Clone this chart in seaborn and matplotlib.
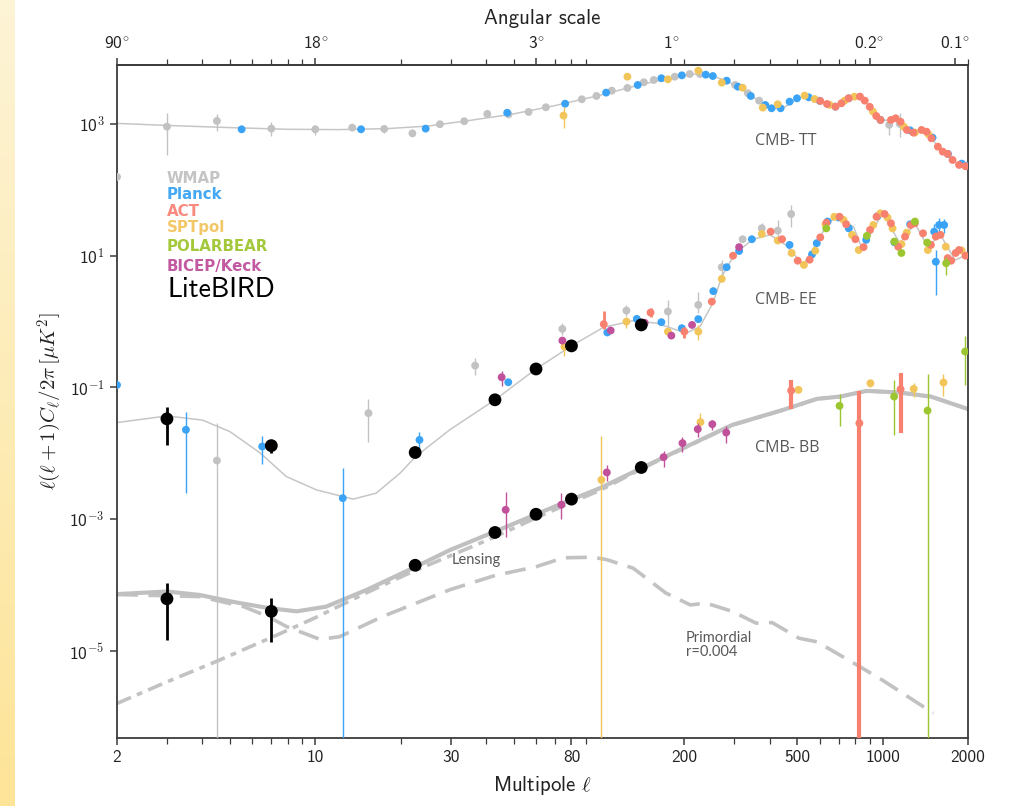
import numpy as np
import pandas as pd
import matplotlib
matplotlib.use("Agg")
import matplotlib.pyplot as plt
from matplotlib.ticker import NullLocator, LogLocator, NullFormatter
import seaborn as sns

# ---------------- theory curves ----------------
tt_theory_l = [2, 3, 5, 8, 12, 18, 25, 35, 50, 70, 100, 140, 180, 220, 250, 280, 310, 345, 385, 420, 450, 500, 535,
               580, 640, 680, 720, 770, 815, 850, 900, 950, 990, 1060, 1110, 1160, 1220, 1290, 1370, 1430, 1490,
               1570, 1640, 1700, 1770, 1860, 2000]
tt_theory_d = [1020, 950, 880, 830, 820, 850, 930, 1130, 1420, 1900, 2700, 3950, 5000, 5750, 5400, 4550, 3650, 2650,
               1950, 1720, 1780, 2450, 2650, 2380, 2000, 1830, 2080, 2500, 2620, 2480, 1820, 1320, 1150, 1130, 1210,
               1070, 810, 740, 810, 760, 600, 450, 375, 345, 280, 240, 215]

ee_theory_l = [2, 3, 4, 5, 6.4, 7.9, 10.1, 13.6, 16.4, 19.9, 22.6, 29.8, 43, 60, 80, 104, 132, 160, 203, 227, 252,
               271, 302, 350, 401, 455, 525, 585, 640, 690, 790, 845, 1000, 1150, 1300, 1440, 1600, 1800, 2000]
ee_theory_d = [0.0293, 0.037, 0.032, 0.0214, 0.0101, 0.00445, 0.00279, 0.00202, 0.00249, 0.005, 0.00896, 0.0228,
               0.065, 0.191, 0.428, 0.822, 1.03, 0.946, 0.667, 0.84, 1.9, 4.8, 10.9, 17.8, 20.7, 14.6, 7.25, 15.5,
               31, 38.4, 27.6, 12.9, 44.2, 15.5, 31.1, 13.7, 20.7, 8.6, 10.5]

bb_total_l = [2, 3, 3.9, 5.1, 6.8, 8.6, 10.9, 15.2, 22.6, 29.8, 43, 79.5, 101, 141, 198, 295, 446, 586, 708, 879,
              1150, 1480, 2000]
bb_total_d = [7.3e-5, 8e-5, 7.1e-5, 5.6e-5, 4.5e-5, 4e-5, 4.7e-5, 8.5e-5, 1.9e-4, 3.4e-4, 6.5e-4, 1.97e-3, 2.97e-3,
              5.96e-3, 0.012, 0.027, 0.0457, 0.0671, 0.0728, 0.0888, 0.0837, 0.0728, 0.047]

bb_lens_l = [2, 3, 4.5, 7, 10, 15, 22, 30, 43, 60, 80, 101, 141, 198, 295, 446, 586, 708, 879, 1150, 1480, 2000]
bb_lens_d = [1.6e-6, 3.4e-6, 7e-6, 1.6e-5, 3.2e-5, 7.5e-5, 1.6e-4, 2.8e-4, 5.4e-4, 1.05e-3, 1.8e-3, 2.75e-3,
             5.8e-3, 0.0118, 0.0268, 0.0455, 0.067, 0.0727, 0.0887, 0.0836, 0.0727, 0.047]

bb_prim_l = [2, 3.9, 5.6, 6.8, 7.9, 10.4, 12.2, 17.3, 29.8, 43, 60, 75, 95, 106, 132, 172, 210, 238, 295, 358, 408,
             508, 587, 706, 830, 1000, 1200, 1510]
bb_prim_d = [7.2e-5, 6.7e-5, 4.7e-5, 3.35e-5, 2.36e-5, 1.5e-5, 1.65e-5, 3.35e-5, 8.5e-5, 1.4e-4, 1.9e-4, 2.6e-4,
             2.65e-4, 2.45e-4, 1.81e-4, 7.6e-5, 5.0e-5, 5.35e-5, 4.0e-5, 2.65e-5, 2.7e-5, 1.56e-5, 1.38e-5, 8.7e-6,
             5.8e-6, 3.6e-6, 2.16e-6, 1.14e-6]

# ---------------- TT data ----------------
wmap_tt_l = [2, 3, 4.5, 7, 10, 13.5, 17.5, 22, 27.5, 33.5, 40.4, 48, 56.5, 65, 87, 98, 111, 126, 144, 156, 185, 209,
             227, 302, 335, 367, 1055, 1150]
wmap_tt_d = [157, 910, 1110, 850, 830, 880, 840, 720, 990, 1100, 1420, 1400, 1520, 1790, 2370, 2660, 3200, 3520, 4290,
             4650, 5220, 5730, 5730, 3900, 2930, 2260, 970, 1000]
wmap_tt_lo = [157, 340, 791, 657, 680, 800, 720, 660, 990, 1100, 1420, 1400, 1520, 1790, 2370, 2660, 3200, 3520,
              4290, 4650, 5220, 5730, 5730, 3900, 2930, 2260, 690, 640]
wmap_tt_hi = [157, 1480, 1420, 1070, 966, 960, 960, 780, 990, 1100, 1420, 1400, 1520, 1790, 2370, 2660, 3200, 3520,
              4290, 4650, 5220, 5730, 5730, 3900, 2930, 2260, 1080, 1480]

planck_tt_l = [5.5, 14.5, 24.5, 47.5, 76, 106, 137, 166, 196, 238, 252, 282, 309, 343, 386, 406, 437, 470, 499, 549,
               600, 682, 760, 983, 1250, 1500, 1700, 1900, 1980]
planck_tt_d = [830, 830, 850, 1480, 2030, 2990, 3900, 4940, 5470, 5600, 5340, 4540, 3680, 2660, 1940, 1730, 1730,
               2180, 2450, 2540, 2250, 1830, 2450, 1150, 800, 620, 350, 250, 232]

spt_tt_l = [75, 126, 175, 224, 271, 321, 378, 427, 531, 576, 651, 735, 795, 925, 1188, 1300, 1450]
spt_tt_d = [1340, 5220, 4760, 6440, 4240, 3550, 1770, 1990, 2690, 2390, 1950, 2260, 2600, 1540, 910, 740, 700]
spt_tt_lo = [861, 5220, 4760, 6440, 4240, 3550, 1770, 1990, 2690, 2390, 1950, 2260, 2600, 1540, 910, 740, 700]
spt_tt_hi = [1830, 5220, 4760, 6440, 4240, 3550, 1770, 1990, 2690, 2390, 1950, 2260, 2600, 1540, 910, 740, 700]

act_tt_l = [603, 637, 682, 716, 759, 832, 865, 901, 950, 983, 1070, 1112, 1157, 1218, 1283, 1372, 1428, 1486, 1566,
            1630, 1696, 1764, 1860, 1960]
act_tt_d = [2230, 2010, 1830, 2060, 2450, 2600, 2260, 1820, 1320, 1150, 1150, 1220, 1080, 811, 738, 811, 764, 606,
            452, 380, 351, 284, 239, 228]

# ---------------- EE data ----------------
wmap_ee_l = [4.5, 15.4, 36.6, 74.3, 125, 175, 224, 271, 321, 375, 427, 476]
wmap_ee_d = [0.00778, 0.0407, 0.215, 0.774, 1.47, 1.42, 1.79, 6.7, 17.8, 26.1, 24, 43]
wmap_ee_lo = [1e-8, 0.0151, 0.155, 0.63, 1.22, 0.84, 1.34, 5.1, 17.8, 21.9, 19.5, 27.6]
wmap_ee_hi = [0.0293, 0.0664, 0.278, 0.946, 1.79, 2.14, 2.85, 8.6, 17.8, 31, 34.9, 59]

planck_ee_l = [2, 3.5, 6.5, 12.5, 23.3, 47.9, 107, 136, 166, 196, 224, 253, 282, 312, 346, 470, 564, 586, 640, 700,
               760, 875, 960, 1100, 1250, 1520, 1540, 1582, 1648]
planck_ee_d = [0.109, 0.0228, 0.0127, 0.00209, 0.016, 0.120, 0.684, 1.1, 0.98, 0.794, 1.09, 2.9, 6.7, 11.8, 17.8,
               14.6, 10.5, 15.5, 33, 38, 26, 17.4, 40, 16, 30, 23.2, 8.1, 29.3, 29.3]
planck_ee_lo = [0.109, 0.00254, 0.0069, 1e-8, 0.0113, 0.120, 0.684, 1.1, 0.98, 0.794, 1.09, 2.9, 6.7, 11.8, 17.8,
                14.6, 10.5, 15.5, 33, 38, 26, 17.4, 40, 16, 30, 18, 2.5, 22, 22]
planck_ee_hi = [0.109, 0.0422, 0.0184, 0.006, 0.0214, 0.120, 0.684, 1.1, 0.98, 0.794, 1.09, 2.9, 6.7, 11.8, 17.8,
                14.6, 10.5, 15.5, 33, 38, 26, 17.4, 40, 16, 30, 30, 12, 37, 36]

act_ee_l = [104, 152, 200, 250, 297, 403, 442, 502, 553, 603, 634, 705, 744, 802, 857, 903, 952, 1016, 1070, 1135,
            1200, 1257, 1298, 1388, 1480, 1540, 1600, 1696, 1745, 1810, 1860, 1960]
act_ee_d = [0.914, 1.37, 0.705, 2.01, 10, 23.2, 17.8, 8.4, 8.7, 19, 31.6, 39, 30, 17.8, 13.5, 24.6, 39, 43, 31, 13.7,
            19.5, 29.3, 31, 21.9, 14.6, 19.5, 20.7, 9.2, 8.4, 11, 12.2, 10]
act_ee_lo = [0.767, 1.17, 0.56] + act_ee_d[3:]
act_ee_hi = [1.47, 1.6, 0.84] + act_ee_d[3:]

spt_ee_l = [75.6, 125, 175, 224, 271, 375, 427, 478, 528, 579, 629, 676, 728, 780, 824, 927, 982, 1040, 1084, 1165,
            1216, 1444, 1670, 1900]
spt_ee_d = [0.417, 1.0, 0.705, 0.705, 4.45, 21.4, 17, 11, 7.25, 11.9, 30, 39, 35, 20.7, 12.2, 29.3, 44, 38, 26, 15,
            22.4, 12.2, 13.7, 12]
spt_ee_lo = [0.3, 0.79, 0.705, 0.527] + spt_ee_d[4:]
spt_ee_hi = [0.45, 1.19, 0.705, 0.89] + spt_ee_d[4:]

pb_ee_l = [633, 880, 1100, 1165, 1300, 1436, 1675]
pb_ee_d = [26, 20, 16.4, 11, 33, 15.8, 7.7]
pb_ee_lo = [26, 20, 16.4, 11, 33, 15.8, 5.1]
pb_ee_hi = [26, 20, 16.4, 11, 33, 15.8, 9.5]

bk_ee_l = [45.4, 74.3, 110, 145, 180, 213, 312]
bk_ee_d = [0.143, 0.515, 0.733, 0.96, 0.613, 0.89, 13.5]
bk_ee_lo = [0.106, 0.47, 0.68, 0.96, 0.56, 0.83, 13.5]
bk_ee_hi = [0.18, 0.56, 0.79, 0.96, 0.67, 0.95, 13.5]

lb_ee_l = [3, 7, 22.5, 43, 60, 80, 141]
lb_ee_d = [0.0334, 0.0131, 0.0103, 0.065, 0.191, 0.428, 0.89]
lb_ee_lo = [0.0135, 0.010, 0.0103, 0.065, 0.191, 0.428, 0.89]
lb_ee_hi = [0.0513, 0.016, 0.0103, 0.065, 0.191, 0.428, 0.89]

# ---------------- BB data ----------------
lb_bb_l = [3, 7, 22.5, 43, 60, 80, 141]
lb_bb_d = [6.2e-5, 4e-5, 2.0e-4, 6.3e-4, 1.19e-3, 2.02e-3, 6.1e-3]
lb_bb_lo = [1.48e-5, 1.39e-5, 2.0e-4, 6.3e-4, 1.19e-3, 2.02e-3, 6.1e-3]
lb_bb_hi = [1.07e-4, 6.35e-5, 2.0e-4, 6.3e-4, 1.19e-3, 2.02e-3, 6.1e-3]

bk_bb_l = [46.9, 73.7, 106.6, 141, 169, 197, 223, 251, 281]
bk_bb_d = [0.00139, 0.00166, 0.00513, 0.0061, 0.00875, 0.0143, 0.0233, 0.0277, 0.0207]
bk_bb_lo = [0.000546, 0.001, 0.00387, 0.0055, 0.0063, 0.0106, 0.018, 0.0228, 0.0146]
bk_bb_hi = [0.00263, 0.00249, 0.0067, 0.0075, 0.011, 0.018, 0.0287, 0.0323, 0.0261]

spt_bb_l = [102, 228, 505, 906, 1287, 1639]
spt_bb_d = [0.00396, 0.0298, 0.092, 0.116, 0.0953, 0.119]
spt_bb_lo = [1e-8, 0.0228, 0.085, 0.10, 0.0713, 0.0746]
spt_bb_hi = [0.0184, 0.0407, 0.1, 0.13, 0.119, 0.161]

act_bb_l = [476, 828, 1157]
act_bb_d = [0.0897, 0.0287, 0.0942]
act_bb_lo = [0.0468, 1e-8, 0.0207]
act_bb_hi = [0.13, 0.087, 0.168]

pb_bb_l = [705, 1098, 1440, 1954]
pb_bb_d = [0.0526, 0.0728, 0.0446, 0.351]
pb_bb_lo = [0.0261, 0.0191, 1e-8, 0.11]
pb_bb_hi = [0.08, 0.13, 0.161, 0.607]

# ---------------- tick labels ----------------
bottom_ticks = [2, 10, 30, 80, 200, 500, 1000, 2000]
bottom_labels = ["2", "10", "30", "80", "200", "500", "1000", "2000"]
top_ticks = [2, 10, 60, 180, 900, 1800]
top_labels = [r"$\mathdefault{90}^{\circ}$", r"$\mathdefault{18}^{\circ}$", r"$\mathdefault{3}^{\circ}$",
              r"$\mathdefault{1}^{\circ}$", r"$\mathdefault{0.2}^{\circ}$", r"$\mathdefault{0.1}^{\circ}$"]
y_ticks = [1e3, 1e1, 1e-1, 1e-3, 1e-5]
y_labels = [r"$\mathdefault{10}^{3}$", r"$\mathdefault{10}^{1}$", r"$\mathdefault{10}^{-1}$",
            r"$\mathdefault{10}^{-3}$", r"$\mathdefault{10}^{-5}$"]

experiments = ["WMAP", "Planck", "ACT", "SPTpol", "POLARBEAR", "BICEP/Keck", "LiteBIRD"]
colors = {"WMAP": "#c2c2c2", "Planck": "#3ba3f5", "ACT": "#f8806f", "SPTpol": "#f2c55a",
          "POLARBEAR": "#9cc62f", "BICEP/Keck": "#c2519c", "LiteBIRD": "#000000"}
label_colors = {"WMAP": "#c4c4c4", "Planck": "#45a8f5", "ACT": "#f88a7e", "SPTpol": "#f3c765",
                "POLARBEAR": "#a3c83c", "BICEP/Keck": "#c25aa2"}

# ---------------- assemble ----------------
def block(exp, spec, l, d, lo=None, hi=None):
    lo = d if lo is None else lo
    hi = d if hi is None else hi
    return pd.DataFrame({"ell": l, "D": d, "lo": lo, "hi": hi, "exp": exp, "spec": spec})

points = pd.concat([
    block("WMAP", "TT", wmap_tt_l, wmap_tt_d, wmap_tt_lo, wmap_tt_hi),
    block("Planck", "TT", planck_tt_l, planck_tt_d),
    block("SPTpol", "TT", spt_tt_l, spt_tt_d, spt_tt_lo, spt_tt_hi),
    block("ACT", "TT", act_tt_l, act_tt_d),
    block("WMAP", "EE", wmap_ee_l, wmap_ee_d, wmap_ee_lo, wmap_ee_hi),
    block("Planck", "EE", planck_ee_l, planck_ee_d, planck_ee_lo, planck_ee_hi),
    block("SPTpol", "EE", spt_ee_l, spt_ee_d, spt_ee_lo, spt_ee_hi),
    block("ACT", "EE", act_ee_l, act_ee_d, act_ee_lo, act_ee_hi),
    block("POLARBEAR", "EE", pb_ee_l, pb_ee_d, pb_ee_lo, pb_ee_hi),
    block("BICEP/Keck", "EE", bk_ee_l, bk_ee_d, bk_ee_lo, bk_ee_hi),
    block("LiteBIRD", "EE", lb_ee_l, lb_ee_d, lb_ee_lo, lb_ee_hi),
    block("BICEP/Keck", "BB", bk_bb_l, bk_bb_d, bk_bb_lo, bk_bb_hi),
    block("SPTpol", "BB", spt_bb_l, spt_bb_d, spt_bb_lo, spt_bb_hi),
    block("ACT", "BB", act_bb_l, act_bb_d, act_bb_lo, act_bb_hi),
    block("POLARBEAR", "BB", pb_bb_l, pb_bb_d, pb_bb_lo, pb_bb_hi),
    block("LiteBIRD", "BB", lb_bb_l, lb_bb_d, lb_bb_lo, lb_bb_hi),
], ignore_index=True)

# ---------------- style ----------------
sns.set_theme(style="ticks")
plt.rcParams["font.family"] = ["cmss10", "DejaVu Sans"]
plt.rcParams["mathtext.fontset"] = "cm"
plt.rcParams["axes.unicode_minus"] = True
plt.rcParams["axes.formatter.use_mathtext"] = True

fig = plt.figure(figsize=(10.15, 8.06), dpi=100)
fig.patch.set_facecolor("white")

# decorative yellow strip at the left edge
strip = fig.add_axes([0, 0, 15 / 1015, 1])
grad = np.linspace(0, 1, 256).reshape(-1, 1)
top_c = np.array([253, 244, 214]) / 255
bot_c = np.array([253, 228, 152]) / 255
img = top_c[None, None, :] * (1 - grad[:, :, None]) + bot_c[None, None, :] * grad[:, :, None]
strip.imshow(img, aspect="auto", extent=[0, 1, 0, 1])
strip.axis("off")

ax = fig.add_axes([117 / 1015, 68 / 806, 851 / 1015, 673 / 806])
ax.set_xscale("log")
ax.set_yscale("log")
ax.set_facecolor("white")

line_c = "#c6c6c6"
sns.lineplot(x=tt_theory_l, y=tt_theory_d, ax=ax, color=line_c, lw=1.1, estimator=None, sort=False, zorder=1)
sns.lineplot(x=ee_theory_l, y=ee_theory_d, ax=ax, color=line_c, lw=1.1, estimator=None, sort=False, zorder=1)
sns.lineplot(x=bb_lens_l, y=bb_lens_d, ax=ax, color="#c2c2c2", lw=2.6, estimator=None, sort=False, zorder=1)
ax.lines[-1].set_linestyle((0, (4.2, 1.8, 1.6, 1.8)))
sns.lineplot(x=bb_prim_l, y=bb_prim_d, ax=ax, color="#c2c2c2", lw=2.6, estimator=None, sort=False, zorder=1)
ax.lines[-1].set_linestyle((0, (5.8, 2.9)))
sns.lineplot(x=bb_total_l, y=bb_total_d, ax=ax, color="#c0c0c0", lw=3.0, estimator=None, sort=False, zorder=2)

order = ["WMAP", "Planck", "SPTpol", "ACT", "POLARBEAR", "BICEP/Keck", "LiteBIRD"]
for z, exp in enumerate(order):
    sub = points[points["exp"] == exp]
    c = colors[exp]
    big = exp == "LiteBIRD"
    for spec in ["TT", "EE", "BB"]:
        s2 = sub[sub["spec"] == spec]
        if s2.empty:
            continue
        elw = 1.0
        if exp == "ACT":
            elw = 3.0 if spec == "BB" else 2.0
        if big:
            elw = 2.0
        yerr = np.vstack([s2["D"] - s2["lo"], s2["hi"] - s2["D"]])
        ax.errorbar(s2["ell"], s2["D"], yerr=yerr, fmt="none", ecolor=c, elinewidth=elw, capsize=0,
                    zorder=3 + z)
    sns.scatterplot(data=sub, x="ell", y="D", ax=ax, color=c, s=85 if big else 32, linewidth=0,
                    edgecolor="none", zorder=3.5 + z, legend=False)

ax.set_xlim(2, 2000)
ax.set_ylim(4.78e-7, 7850)

# axes styling
for sp in ax.spines.values():
    sp.set_visible(True)
    sp.set_color("#3c3c3c")
    sp.set_linewidth(1.3)

ax.set_xticks(bottom_ticks, bottom_labels)
ax.xaxis.set_minor_locator(LogLocator(base=10, subs=np.arange(2, 10)))
ax.xaxis.set_minor_formatter(NullFormatter())
ax.set_yticks(y_ticks, y_labels)
ax.yaxis.set_minor_locator(NullLocator())
ax.tick_params(axis="both", which="major", direction="out", length=5, width=1.1, color="#3c3c3c",
               labelsize=12.5, labelcolor="#222222", pad=4)
ax.tick_params(axis="x", which="minor", direction="out", length=4, width=0.9, color="#3c3c3c")
ax.tick_params(right=False, top=False)

ax.set_xlabel(r"Multipole $\ell$", fontsize=15, color="#222222", labelpad=6)
ax.set_ylabel(r"$\ell(\ell+1)C_\ell/2\pi\,[\mu K^2]$", fontsize=15, color="#222222", labelpad=4)

top = ax.secondary_xaxis("top")
top.set_xticks(top_ticks, top_labels)
top.xaxis.set_minor_locator(LogLocator(base=10, subs=np.arange(2, 10)))
top.xaxis.set_minor_formatter(NullFormatter())
top.tick_params(axis="x", which="major", direction="out", length=5, width=1.1, color="#3c3c3c",
                labelsize=12.5, labelcolor="#222222", pad=4)
top.tick_params(axis="x", which="minor", direction="out", length=4, width=0.9, color="#3c3c3c")
top.spines["top"].set_color("#3c3c3c")
top.spines["top"].set_linewidth(1.3)
top.set_xlabel("Angular scale", fontsize=15, color="#222222", labelpad=9)

# annotations
ann_c = "#585858"
ax.text(355, 552, "CMB- TT", fontsize=11.5, color=ann_c, family="Open Sans", va="center", ha="left")
ax.text(355, 2.13, "CMB- EE", fontsize=11.5, color=ann_c, family="Open Sans", va="center", ha="left")
ax.text(355, 0.0121, "CMB- BB", fontsize=11.5, color=ann_c, family="Open Sans", va="center", ha="left")
ax.text(30.3, 2.42e-4, "Lensing", fontsize=10.5, color=ann_c, family="Lato", va="center", ha="left")
ax.text(202, 1.24e-5, "Primordial\nr=0.004", fontsize=10.5, color=ann_c, family="Lato", va="center", ha="left",
        linespacing=1.0)

# colored legend text
legend_y = [0.832, 0.808, 0.783, 0.758, 0.731, 0.701]
for exp, yy in zip(experiments[:6], legend_y):
    ax.text(0.0588, yy, exp, transform=ax.transAxes, fontsize=10.8, fontweight="bold",
            family="DejaVu Sans", color=label_colors[exp], va="center", ha="left")
ax.text(0.0588, 0.667, "LiteBIRD", transform=ax.transAxes, fontsize=20, family="cmss10", color="black",
        va="center", ha="left")

fig.savefig("out.png", dpi=100, facecolor="white")
